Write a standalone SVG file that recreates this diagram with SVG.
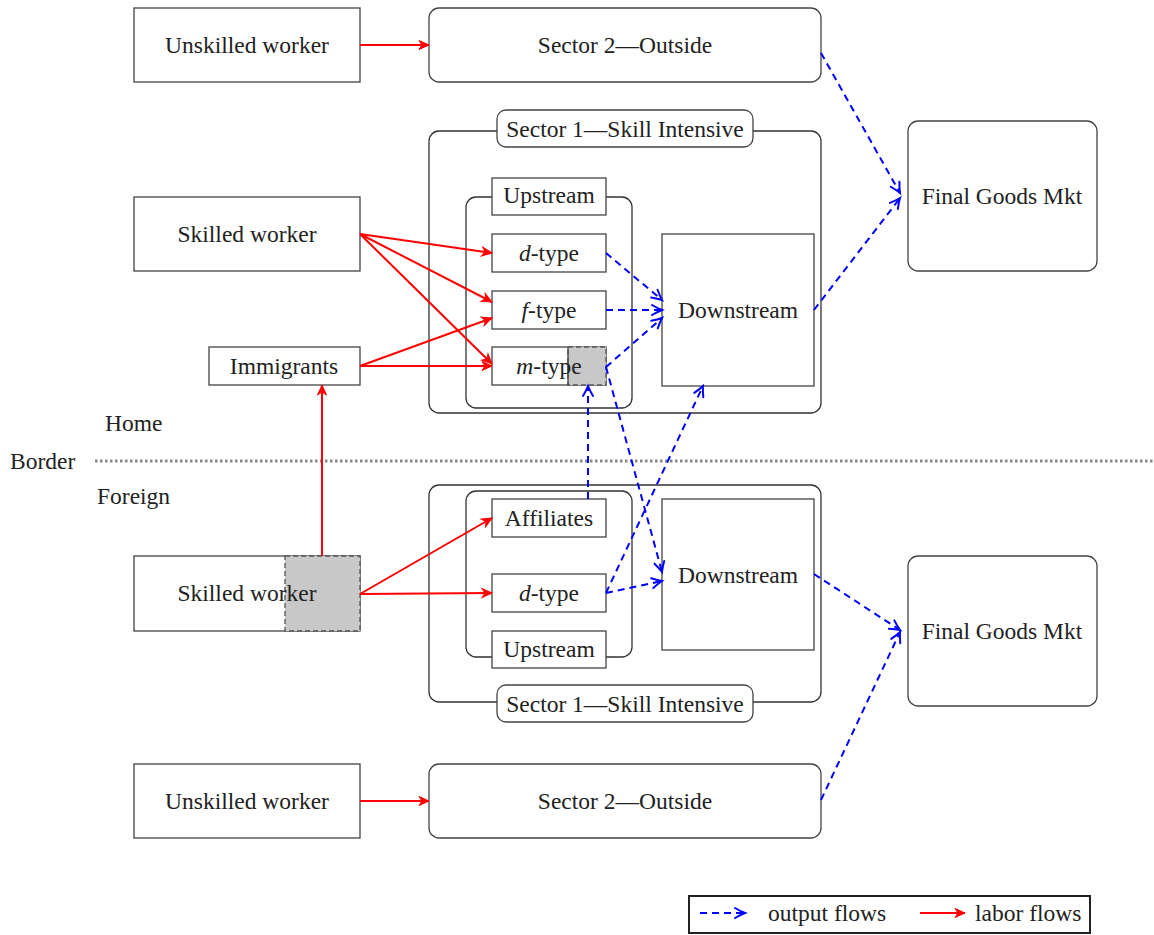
<svg xmlns="http://www.w3.org/2000/svg" width="1154" height="935" viewBox="0 0 1154 935">
<style>
text{font-family:"Liberation Serif","Times New Roman",serif;font-size:23.5px;fill:#222;text-anchor:middle}
.box{fill:#fff;stroke:#444;stroke-width:1.3}
.grp{fill:none;stroke:#333;stroke-width:1.3}
.gray{fill:#c8c8c8;stroke:#555;stroke-width:1.3;stroke-dasharray:5,3}
.red{stroke:#f00;stroke-width:2;fill:none;marker-end:url(#ar)}
.blue{stroke:#00f;stroke-width:2;fill:none;stroke-dasharray:7,5;marker-end:url(#ab)}
.lt{text-anchor:start}
</style>
<defs>
<marker id="ar" markerUnits="userSpaceOnUse" markerWidth="14" markerHeight="12" refX="12" refY="6" orient="auto" overflow="visible">
<path d="M12,6 L2,1.5 L5,6 L2,10.5 Z" fill="#f00" stroke="#f00" stroke-width="1" stroke-linejoin="miter"/>
</marker>
<marker id="ab" markerUnits="userSpaceOnUse" markerWidth="14" markerHeight="12" refX="12" refY="6" orient="auto" overflow="visible">
<path d="M2,1 Q8,4.5 12,6 Q8,7.5 2,11" fill="none" stroke="#00f" stroke-width="2" stroke-linecap="round"/>
</marker>
</defs>

<g id="border">
<line x1="95" y1="461" x2="1154" y2="461" stroke="#888" stroke-width="3" stroke-dasharray="2.5,2.5"/>
<text class="lt" x="10" y="469">Border</text>
<text class="lt" x="105" y="431">Home</text>
<text class="lt" x="97" y="504">Foreign</text>
</g>

<g id="home-unskilled"><rect class="box" x="134" y="8" width="226" height="74"/><text x="247" y="53">Unskilled worker</text></g>
<g id="home-sector2"><rect class="box" x="429" y="8" width="392" height="74" rx="10"/><text x="625" y="53">Sector 2—Outside</text></g>

<g id="home-sector1">
<rect class="grp" x="429" y="131" width="392" height="282" rx="10"/>
<rect class="box" x="497" y="110" width="256" height="37" rx="9"/>
<text x="625" y="137">Sector 1—Skill Intensive</text>
</g>
<g id="home-upstream">
<rect class="grp" x="466" y="197" width="166" height="211" rx="10"/>
<rect class="box" x="492" y="178" width="114" height="37"/>
<text x="549" y="203">Upstream</text>
</g>
<g id="home-dtype"><rect class="box" x="492" y="234" width="114" height="38"/><text x="549" y="261"><tspan font-style="italic">d</tspan>-type</text></g>
<g id="home-ftype"><rect class="box" x="492" y="291" width="114" height="38"/><text x="549" y="318"><tspan font-style="italic">f</tspan>-type</text></g>
<g id="home-mtype"><rect class="box" x="492" y="347" width="114" height="38"/><rect class="gray" x="568" y="347" width="38" height="38"/><line x1="568" y1="347" x2="568" y2="385" stroke="#444" stroke-width="1.3"/><text x="549" y="374"><tspan font-style="italic">m</tspan>-type</text></g>
<g id="home-downstream"><rect class="box" x="662" y="234" width="152" height="152"/><text x="738" y="318">Downstream</text></g>
<g id="home-final"><rect class="box" x="908" y="121" width="189" height="150" rx="10"/><text x="1002" y="204">Final Goods Mkt</text></g>
<g id="home-skilled"><rect class="box" x="134" y="197" width="226" height="74"/><text x="247" y="242">Skilled worker</text></g>
<g id="immigrants"><rect class="box" x="209" y="347" width="151" height="38"/><text x="284" y="374">Immigrants</text></g>

<g id="foreign-sector1">
<rect class="grp" x="429" y="485" width="392" height="217" rx="10"/>
<rect class="box" x="497" y="685" width="256" height="37" rx="9"/>
<text x="625" y="712">Sector 1—Skill Intensive</text>
</g>
<g id="foreign-upstream">
<rect class="grp" x="466" y="491" width="166" height="166" rx="10"/>
<rect class="box" x="492" y="631" width="114" height="37"/>
<text x="549" y="657">Upstream</text>
</g>
<g id="foreign-affiliates"><rect class="box" x="492" y="499" width="114" height="38"/><text x="549" y="526">Affiliates</text></g>
<g id="foreign-dtype"><rect class="box" x="492" y="574" width="114" height="38"/><text x="549" y="601"><tspan font-style="italic">d</tspan>-type</text></g>
<g id="foreign-downstream"><rect class="box" x="662" y="499" width="152" height="151"/><text x="738" y="583">Downstream</text></g>
<g id="foreign-final"><rect class="box" x="908" y="556" width="189" height="150" rx="10"/><text x="1002" y="639">Final Goods Mkt</text></g>
<g id="foreign-skilled"><rect class="box" x="134" y="556" width="226" height="75"/><rect class="gray" x="285" y="556" width="75" height="75"/><text x="247" y="601">Skilled worker</text></g>
<g id="foreign-unskilled"><rect class="box" x="134" y="764" width="226" height="74"/><text x="247" y="809">Unskilled worker</text></g>
<g id="foreign-sector2"><rect class="box" x="429" y="764" width="392" height="74" rx="10"/><text x="625" y="809">Sector 2—Outside</text></g>

<g id="connectors">
<line class="red" x1="360" y1="45" x2="429" y2="45"/>
<line class="red" x1="360" y1="234" x2="492" y2="253"/>
<line class="red" x1="360" y1="234" x2="492" y2="302"/>
<line class="red" x1="360" y1="234" x2="492" y2="364"/>
<line class="red" x1="360" y1="366" x2="492" y2="318"/>
<line class="red" x1="360" y1="366" x2="492" y2="366"/>
<line class="red" x1="322" y1="556" x2="322" y2="385"/>
<line class="red" x1="360" y1="594" x2="492" y2="518"/>
<line class="red" x1="360" y1="594" x2="492" y2="593"/>
<line class="red" x1="360" y1="801" x2="429" y2="801"/>

<line class="blue" x1="821" y1="53" x2="900" y2="193"/>
<line class="blue" x1="814" y1="310" x2="900" y2="198"/>
<line class="blue" x1="606" y1="253" x2="662" y2="300"/>
<line class="blue" x1="606" y1="310" x2="662" y2="310"/>
<line class="blue" x1="606" y1="367" x2="662" y2="318"/>
<line class="blue" x1="588" y1="499" x2="588" y2="386"/>
<line class="blue" x1="606" y1="367" x2="662" y2="572"/>
<line class="blue" x1="606" y1="593" x2="703" y2="386"/>
<line class="blue" x1="606" y1="593" x2="662" y2="581"/>
<line class="blue" x1="814" y1="574" x2="900" y2="630"/>
<line class="blue" x1="821" y1="800" x2="900" y2="632"/>
</g>

<g id="legend">
<rect x="689" y="896" width="401" height="37" fill="#fff" stroke="#222" stroke-width="2"/>
<line class="blue" x1="700" y1="913" x2="745" y2="913"/>
<text class="lt" x="768" y="921">output flows</text>
<line class="red" x1="920" y1="913" x2="965" y2="913"/>
<text class="lt" x="975" y="921">labor flows</text>
</g>
</svg>
